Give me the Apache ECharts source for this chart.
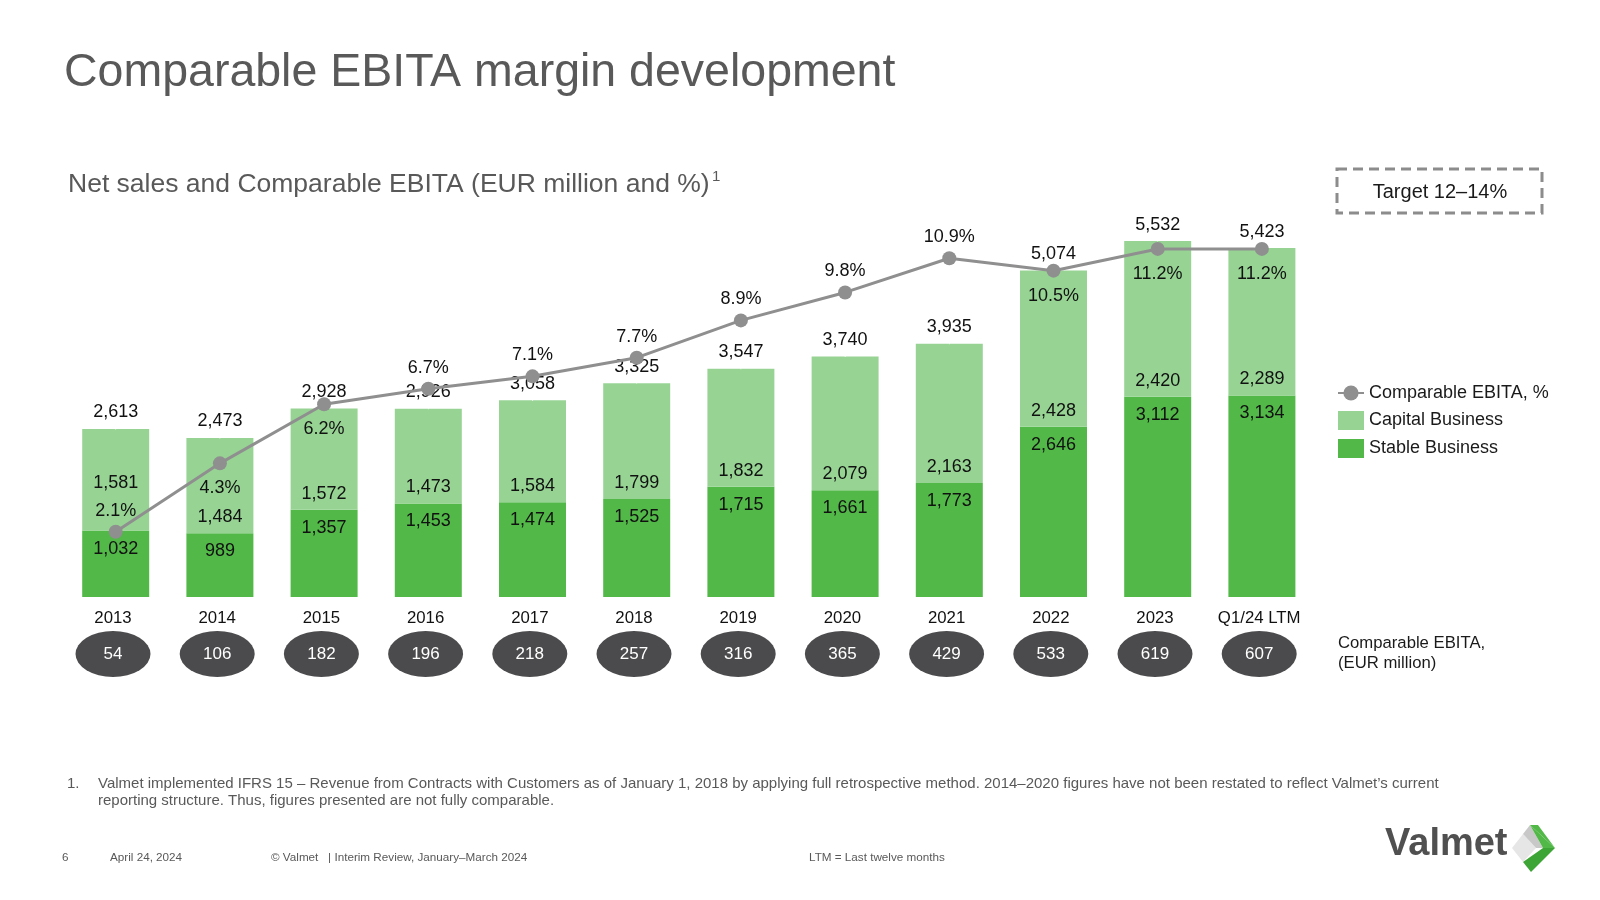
<!DOCTYPE html>
<html>
<head>
<meta charset="utf-8">
<script src="https://cdn.jsdelivr.net/npm/echarts@6/dist/echarts.min.js"></script>
<style>
html,body{margin:0;padding:0;background:#fff;}
#chart{width:1600px;height:900px;}
</style>
</head>
<body>
<div id="chart"></div>
<script>
// ---- data ----
const categories = ['2013','2014','2015','2016','2017','2018','2019','2020','2021','2022','2023','Q1/24 LTM'];
const stableBusiness = [1032, 989, 1357, 1453, 1474, 1525, 1715, 1661, 1773, 2646, 3112, 3134];
const capitalBusiness = [1581, 1484, 1572, 1473, 1584, 1799, 1832, 2079, 2163, 2428, 2420, 2289];
const netSalesTotal = [2613, 2473, 2928, 2926, 3058, 3325, 3547, 3740, 3935, 5074, 5532, 5423];
const ebitaMargin = [2.1, 4.3, 6.2, 6.7, 7.1, 7.7, 8.9, 9.8, 10.9, 10.5, 11.2, 11.2];
const comparableEbita = [54, 106, 182, 196, 218, 257, 316, 365, 429, 533, 619, 607];
const ebitaRowLabel = 'EBITA';

// ---- styling config ----
const FONT = '"Liberation Sans", Arial, Helvetica, sans-serif';
const marginLabelsBelow = ['2014', '2015', '2022', '2023', 'Q1/24 LTM'];
const fmt = v => Number(v).toLocaleString('en-US');
const LABEL_SIZE = 18;

const chart = echarts.init(document.getElementById('chart'), null, {renderer: 'canvas'});

const gridLeft = 63.6, gridWidth = 1250.4;

const option = {
  animation: false,
  backgroundColor: '#ffffff',
  textStyle: {fontFamily: FONT},
  legend: {
    data: [
      {name: 'Comparable EBITA, %'},
      {name: 'Capital Business', icon: 'rect'},
      {name: 'Stable Business', icon: 'rect'}
    ],
    orient: 'vertical',
    left: 1337,
    top: 384,
    padding: 0,
    itemWidth: 26,
    itemHeight: 19,
    itemGap: 9,
    selectedMode: false,
    textStyle: {fontSize: 18, color: '#1a1a1a', fontFamily: FONT}
  },
  grid: [
    {left: gridLeft, width: gridWidth, top: 211, height: 386, containLabel: false},
    {left: gridLeft - 2.7, width: gridWidth, top: 631, height: 46, containLabel: false}
  ],
  xAxis: [
    {type: 'category', gridIndex: 0, data: categories, axisLine: {show: false}, axisTick: {show: false}, axisLabel: {show: false}, splitLine: {show: false}},
    {type: 'category', gridIndex: 1, data: categories, position: 'top', axisLine: {show: false}, axisTick: {show: false},
     axisLabel: {show: true, fontSize: 16.8, color: '#111', margin: 4, fontFamily: FONT, interval: 0}, splitLine: {show: false}}
  ],
  yAxis: [
    {type: 'value', gridIndex: 0, min: 0, max: 6000, show: false, splitLine: {show: false}},
    {type: 'value', gridIndex: 0, min: 0, max: 12.42, show: false, splitLine: {show: false}},
    {type: 'category', gridIndex: 1, data: [ebitaRowLabel], show: false}
  ],
  series: [
    {
      name: 'Stable Business',
      type: 'bar',
      stack: 'sales',
      xAxisIndex: 0, yAxisIndex: 0,
      barWidth: 67,
      itemStyle: {color: '#52b848'},
      label: {show: true, position: 'insideTop', distance: 9, fontSize: LABEL_SIZE, color: '#111', fontFamily: FONT,
        formatter: p => fmt(p.value)},
      data: stableBusiness
    },
    {
      name: 'Capital Business',
      type: 'bar',
      stack: 'sales',
      xAxisIndex: 0, yAxisIndex: 0,
      barWidth: 67,
      itemStyle: {color: '#97d494'},
      label: {show: true, position: 'insideBottom', distance: 7, fontSize: LABEL_SIZE, color: '#111', fontFamily: FONT,
        formatter: p => fmt(p.value)},
      data: capitalBusiness.map((v, i) => i === 0 ? {value: v, label: {offset: [0, -32]}} : v)
    },
    {
      name: 'Net sales',
      type: 'scatter',
      xAxisIndex: 0, yAxisIndex: 0,
      symbolSize: 1,
      itemStyle: {color: '#ffffff', opacity: 1},
      label: {show: true, position: 'top', distance: 7, fontSize: LABEL_SIZE, color: '#111', opacity: 1, fontFamily: FONT,
        formatter: p => fmt(p.value)},
      z: 4,
      data: netSalesTotal
    },
    {
      name: 'Comparable EBITA, %',
      type: 'line',
      xAxisIndex: 0, yAxisIndex: 1,
      symbol: 'circle',
      symbolSize: 14,
      lineStyle: {color: '#8f8f8f', width: 3},
      itemStyle: {color: '#8f8f8f'},
      z: 5,
      label: {show: true, distance: 6, fontSize: LABEL_SIZE, color: '#111', fontFamily: FONT,
        formatter: p => Number(p.value).toFixed(1) + '%'},
      data: ebitaMargin.map((v, i) => {
        const below = marginLabelsBelow.includes(categories[i]);
        return {value: v, label: {position: below ? 'bottom' : 'top', distance: below ? 9 : 5}};
      })
    },
    {
      name: 'Comparable EBITA',
      type: 'scatter',
      xAxisIndex: 1, yAxisIndex: 2,
      symbol: 'path://M0,50 A50,50 0 1,1 100,50 A50,50 0 1,1 0,50 Z',
      symbolKeepAspect: false,
      symbolSize: [75, 46],
      itemStyle: {color: '#4b4b4d', opacity: 1},
      label: {show: true, position: 'inside', fontSize: 17, color: '#ffffff', opacity: 1, fontFamily: FONT,
        formatter: p => String(p.value[2])},
      data: categories.map((c, i) => [c, ebitaRowLabel, comparableEbita[i]])
    }
  ],
  graphic: [
    {type: 'text', x: 64, y: 73, style: {text: 'Comparable EBITA margin development', fontSize: 46.5, fontFamily: FONT, fill: '#595959', align: 'left', verticalAlign: 'middle'}},
    {type: 'text', x: 68, y: 185, style: {text: 'Net sales and Comparable EBITA (EUR million and %)', fontSize: 26.5, fontFamily: FONT, fill: '#595959', align: 'left', verticalAlign: 'middle'}},
    {type: 'text', x: 712, y: 177, style: {text: '1', fontSize: 15, fontFamily: FONT, fill: '#595959', align: 'left', verticalAlign: 'middle'}},
    {type: 'rect', shape: {x: 1337, y: 169, width: 205, height: 44}, style: {fill: 'none', stroke: '#8c8c8c', lineWidth: 3, lineDash: [10, 6]}},
    {type: 'text', x: 1440, y: 192, style: {text: 'Target 12–14%', fontSize: 20, fontFamily: FONT, fill: '#1a1a1a', align: 'center', verticalAlign: 'middle'}},
    {type: 'text', x: 1338, y: 643, style: {text: 'Comparable EBITA,', fontSize: 16.7, fontFamily: FONT, fill: '#1a1a1a', align: 'left', verticalAlign: 'middle'}},
    {type: 'text', x: 1338, y: 663, style: {text: '(EUR million)', fontSize: 16.7, fontFamily: FONT, fill: '#1a1a1a', align: 'left', verticalAlign: 'middle'}},
    {type: 'text', x: 67, y: 784, style: {text: '1.', fontSize: 15, fontFamily: FONT, fill: '#595959', align: 'left', verticalAlign: 'middle'}},
    {type: 'text', x: 98, y: 784, style: {text: 'Valmet implemented IFRS 15 – Revenue from Contracts with Customers as of January 1, 2018 by applying full retrospective method. 2014–2020 figures have not been restated to reflect Valmet’s current', fontSize: 15, fontFamily: FONT, fill: '#595959', align: 'left', verticalAlign: 'middle'}},
    {type: 'text', x: 98, y: 801, style: {text: 'reporting structure. Thus, figures presented are not fully comparable.', fontSize: 15, fontFamily: FONT, fill: '#595959', align: 'left', verticalAlign: 'middle'}},
    {type: 'text', x: 62, y: 858, style: {text: '6', fontSize: 11.7, fontFamily: FONT, fill: '#595959', align: 'left', verticalAlign: 'middle'}},
    {type: 'text', x: 110, y: 858, style: {text: 'April 24, 2024', fontSize: 11.7, fontFamily: FONT, fill: '#595959', align: 'left', verticalAlign: 'middle'}},
    {type: 'text', x: 271, y: 858, style: {text: '© Valmet   | Interim Review, January–March 2024', fontSize: 11.7, fontFamily: FONT, fill: '#595959', align: 'left', verticalAlign: 'middle'}},
    {type: 'text', x: 809, y: 858, style: {text: 'LTM = Last twelve months', fontSize: 11.7, fontFamily: FONT, fill: '#595959', align: 'left', verticalAlign: 'middle'}},
    {type: 'text', x: 1385, y: 845, style: {text: 'Valmet', fontSize: 38, fontWeight: 'bold', fontFamily: FONT, fill: '#505050', align: 'left', verticalAlign: 'middle'}},
    {type: 'polygon', shape: {points: [[1512, 848], [1523, 834], [1536, 848], [1523, 862]]}, style: {fill: '#e6e6e6'}},
    {type: 'polygon', shape: {points: [[1523, 834], [1530, 825], [1543, 848], [1536, 848]]}, style: {fill: '#c8c8c8'}},
    {type: 'polygon', shape: {points: [[1530, 825], [1555, 848], [1543, 848]]}, style: {fill: '#52b848'}},
    {type: 'polygon', shape: {points: [[1530, 825], [1538, 825], [1555, 848]]}, style: {fill: '#52b848'}},
    {type: 'polygon', shape: {points: [[1555, 848], [1531, 872], [1523, 862], [1543, 848]]}, style: {fill: '#3da535'}}
  ]
};

chart.setOption(option);
</script>
</body>
</html>
